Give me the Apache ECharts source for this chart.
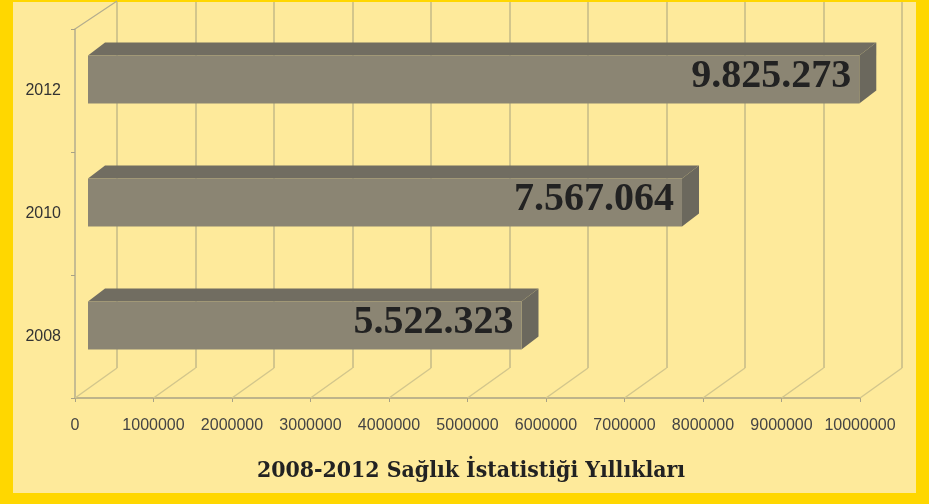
<!DOCTYPE html>
<html>
<head>
<meta charset="utf-8">
<script src="https://cdn.jsdelivr.net/npm/echarts@6/dist/echarts.min.js"></script>
<style>
  body { margin: 0; background: #fff; }
  #frame { position: absolute; left: 0; top: 0; width: 929px; height: 504px; background: #FFD700; }
  #inner { position: absolute; left: 13px; top: 2px; width: 903px; height: 491px; background: #FEEA9B; }
  #chart { position: absolute; left: 0; top: 0; width: 942px; height: 504px; }
</style>
</head>
<body>
<div id="frame"><div id="inner"></div></div>
<div id="chart"></div>
<script>
// yıllar (alttan üste)
const years = ['2008', '2010', '2012'];
// kişi sayıları
const values = [5522323, 7567064, 9825273];
// x ekseni tick değerleri
const xTicks = [0, 1000000, 2000000, 3000000, 4000000, 5000000, 6000000, 7000000, 8000000, 9000000, 10000000];

const titleText = '2008-2012 Sağlık İstatistiği Yıllıkları';

// derinlik (3B görünüm)
const wallDx = 42, wallDy = -30;
const barDx = 17, barDy = -13;
const gridColor = '#D3C68C';

// 9825273 -> 9.825.273
const formatNum = (n) => String(n).replace(/\B(?=(\d{3})+(?!\d))/g, '.');

const chart = echarts.init(document.getElementById('chart'), null, { renderer: 'canvas' });

const option = {
    backgroundColor: 'transparent',
    animation: false,
    title: {
        text: titleText,
        left: 'center',
        top: 455,
        textStyle: { fontFamily: '"DejaVu Serif Condensed", "DejaVu Serif", serif', fontWeight: 'bold', fontSize: 22.8, color: '#222' }
    },
    grid: [
        { left: 75, right: 82, top: 29, bottom: 106 },
        { left: 117, right: 40, top: 2, bottom: 136 }
    ],
    xAxis: [
        {
            type: 'value', gridIndex: 0, min: 0, max: 10000000, interval: 1000000,
            axisLine: { show: true, lineStyle: { color: '#A9A285', width: 1.5 } },
            axisTick: { show: true, length: 4, lineStyle: { color: '#A9A285' } },
            axisLabel: { margin: 20, color: '#444', fontFamily: '"Liberation Sans", Arial', fontSize: 16, formatter: (v) => String(v) },
            splitLine: { show: false }
        },
        {
            type: 'value', gridIndex: 1, min: 0, max: 10000000, interval: 1000000,
            axisLine: { show: false }, axisTick: { show: false }, axisLabel: { show: false },
            splitLine: { show: true, lineStyle: { color: gridColor, width: 2 } }
        }
    ],
    yAxis: [
        {
            type: 'category', gridIndex: 0, data: years,
            axisLine: { show: true, lineStyle: { color: '#B3AC8E', width: 1.5 } },
            axisTick: { show: true, length: 4, lineStyle: { color: '#A9A285' } },
            axisLabel: { margin: 14, color: '#333', fontFamily: '"Liberation Sans", Arial', fontSize: 16 }
        },
        { type: 'category', gridIndex: 1, data: years, show: false }
    ],
    series: [
        // zemin ve sol duvar çizgileri
        {
            type: 'custom',
            xAxisIndex: 0, yAxisIndex: 0,
            data: xTicks.map(v => [v, 0]),
            silent: true,
            z: 1,
            renderItem: (params, api) => {
                const x = api.coord([api.value(0), 0])[0];
                const cs = params.coordSys;
                const yb = cs.y + cs.height;
                const children = [{
                    type: 'line',
                    shape: { x1: x, y1: yb, x2: x + wallDx, y2: yb + wallDy },
                    style: { stroke: gridColor, lineWidth: 1.5 }
                }];
                if (params.dataIndex === 0) {
                    children.push({
                        type: 'line',
                        shape: { x1: x, y1: cs.y, x2: x + wallDx, y2: cs.y + wallDy + 2 },
                        style: { stroke: '#B3AC8E', lineWidth: 1.2 }
                    });
                }
                return { type: 'group', children };
            }
        },
        // 3B çubuklar
        {
            type: 'custom',
            xAxisIndex: 0, yAxisIndex: 0,
            data: values.map((v, i) => [v, i]),
            z: 3,
            renderItem: (params, api) => {
                const val = api.value(0);
                const start = api.coord([0, api.value(1)]);
                const end = api.coord([val, api.value(1)]);
                const x0 = start[0] + 13;
                const x1 = end[0] + 13;
                const yc = start[1] - 11;
                const h = 24;
                const top = yc - h, bot = yc + h;
                return {
                    type: 'group',
                    children: [
                        {
                            type: 'polygon',
                            shape: { points: [[x0, top], [x0 + barDx, top + barDy], [x1 + barDx, top + barDy], [x1, top]] },
                            style: { fill: '#716D61' }
                        },
                        {
                            type: 'polygon',
                            shape: { points: [[x1, top], [x1 + barDx, top + barDy], [x1 + barDx, bot + barDy], [x1, bot]] },
                            style: { fill: '#6B685D' }
                        },
                        {
                            type: 'rect',
                            shape: { x: x0, y: top, width: x1 - x0, height: bot - top },
                            style: { fill: '#8B8573' }
                        },
                        {
                            type: 'text',
                            style: {
                                text: formatNum(val),
                                x: x1 - 8, y: yc - 3,
                                align: 'right', verticalAlign: 'middle',
                                font: 'bold 40px "Liberation Serif", serif',
                                fill: '#222'
                            }
                        }
                    ]
                };
            }
        }
    ]
};

chart.setOption(option);
</script>
</body>
</html>
